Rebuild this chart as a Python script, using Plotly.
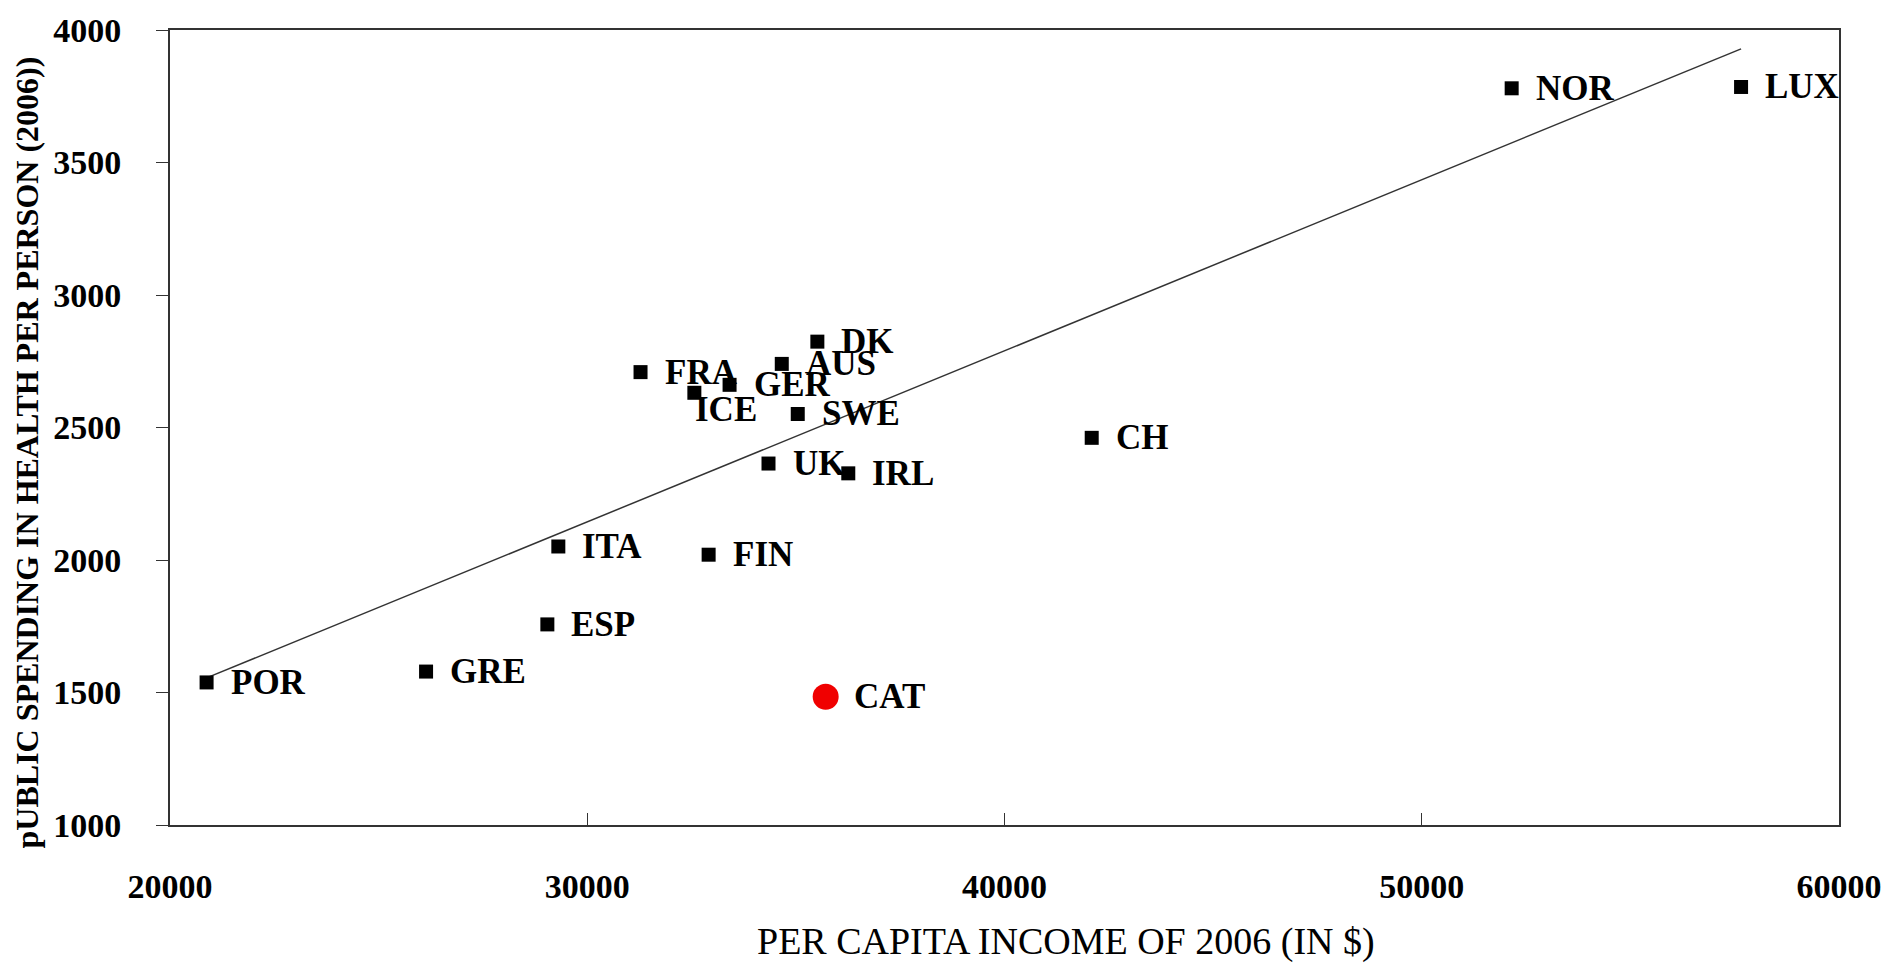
import plotly.graph_objects as go

# ---- data ----
countries = ["POR", "GRE", "ESP", "ITA", "FIN", "FRA", "ICE", "GER", "AUS",
             "DK", "SWE", "UK", "IRL", "CH", "NOR", "LUX"]
income = [20877, 26137, 29044, 29307, 32909, 31277, 32567, 33411, 34662,
          35515, 35045, 34344, 36256, 42090, 52155, 57653]
spending = [1538, 1579, 1757, 2051, 2020, 2709, 2631, 2661, 2740,
            2824, 2551, 2364, 2327, 2461, 3780, 3785]

cat_name = ["CAT"]
cat_income = [35714]
cat_spending = [1484]

trend_income = [20877, 57653]
trend_spending = [1555, 3929]

x_ticks = [20000, 30000, 40000, 50000, 60000]
y_ticks = [1000, 1500, 2000, 2500, 3000, 3500, 4000]

x_title = "PER CAPITA INCOME OF 2006 (IN $)"
y_title = "pUBLIC SPENDING IN HEALTH PER PERSON (2006))"

# ---- styling ----
SERIF = "Liberation Serif, Times New Roman, serif"
label_font = dict(family=SERIF, size=35, color="black")
label_shift = {"ICE": (-1, -17), "CAT": (26, 0)}  # (xshift, yshift) overrides in px
default_shift = (22, 0)

fig = go.Figure()

fig.add_trace(go.Scatter(
    x=trend_income, y=trend_spending, mode="lines",
    line=dict(color="#333333", width=1.5), hoverinfo="skip", showlegend=False))

fig.add_trace(go.Scatter(
    x=income, y=spending, mode="markers",
    marker=dict(symbol="square", size=14, color="black"),
    text=countries, showlegend=False))

fig.add_trace(go.Scatter(
    x=cat_income, y=cat_spending, mode="markers",
    marker=dict(symbol="circle", size=26, color="#f00000"),
    text=cat_name, showlegend=False))

annotations = []
for name, xv, yv in list(zip(countries, income, spending)) + list(zip(cat_name, cat_income, cat_spending)):
    dx, dy = label_shift.get(name, default_shift)
    annotations.append(dict(
        x=xv, y=yv, xref="x", yref="y", text="<b>%s</b>" % name,
        showarrow=False, xanchor="left", yanchor="middle",
        xshift=dx, yshift=dy, font=label_font))

annotations.append(dict(
    x=-0.0855, y=0.469, xref="paper", yref="paper", text="<b>%s</b>" % y_title,
    textangle=-90, showarrow=False, xanchor="center", yanchor="middle",
    font=dict(family=SERIF, size=32, color="black")))
annotations.append(dict(
    x=0.537, y=-0.147, xref="paper", yref="paper", text=x_title,
    showarrow=False, xanchor="center", yanchor="middle",
    font=dict(family=SERIF, size=38, color="black")))

fig.update_layout(
    width=1894, height=964,
    margin=dict(l=170, r=51, t=26, b=139),
    paper_bgcolor="white", plot_bgcolor="white",
    annotations=annotations,
    showlegend=False,
)

fig.update_xaxes(
    range=[20000, 60000], tickvals=x_ticks, ticktext=[str(v) for v in x_ticks],
    showgrid=False, zeroline=False,
    showline=True, linecolor="#333333", linewidth=2, mirror=True,
    ticks="inside", ticklen=12, tickcolor="#333333", tickwidth=1,
    tickfont=dict(family=SERIF, size=34, color="black", weight="bold"),
    ticklabelstandoff=30,
)
fig.update_yaxes(
    range=[1000, 4000], tickvals=y_ticks, ticktext=[str(v) for v in y_ticks],
    showgrid=False, zeroline=False,
    showline=True, linecolor="#333333", linewidth=2, mirror=True,
    ticks="outside", ticklen=12, tickcolor="#333333", tickwidth=1,
    tickfont=dict(family=SERIF, size=34, color="black", weight="bold"),
    ticklabelstandoff=28,
)

fig.write_html("out.html", config={"displayModeBar": False},
               post_script="document.body.style.margin='0';document.body.style.overflow='hidden';")
